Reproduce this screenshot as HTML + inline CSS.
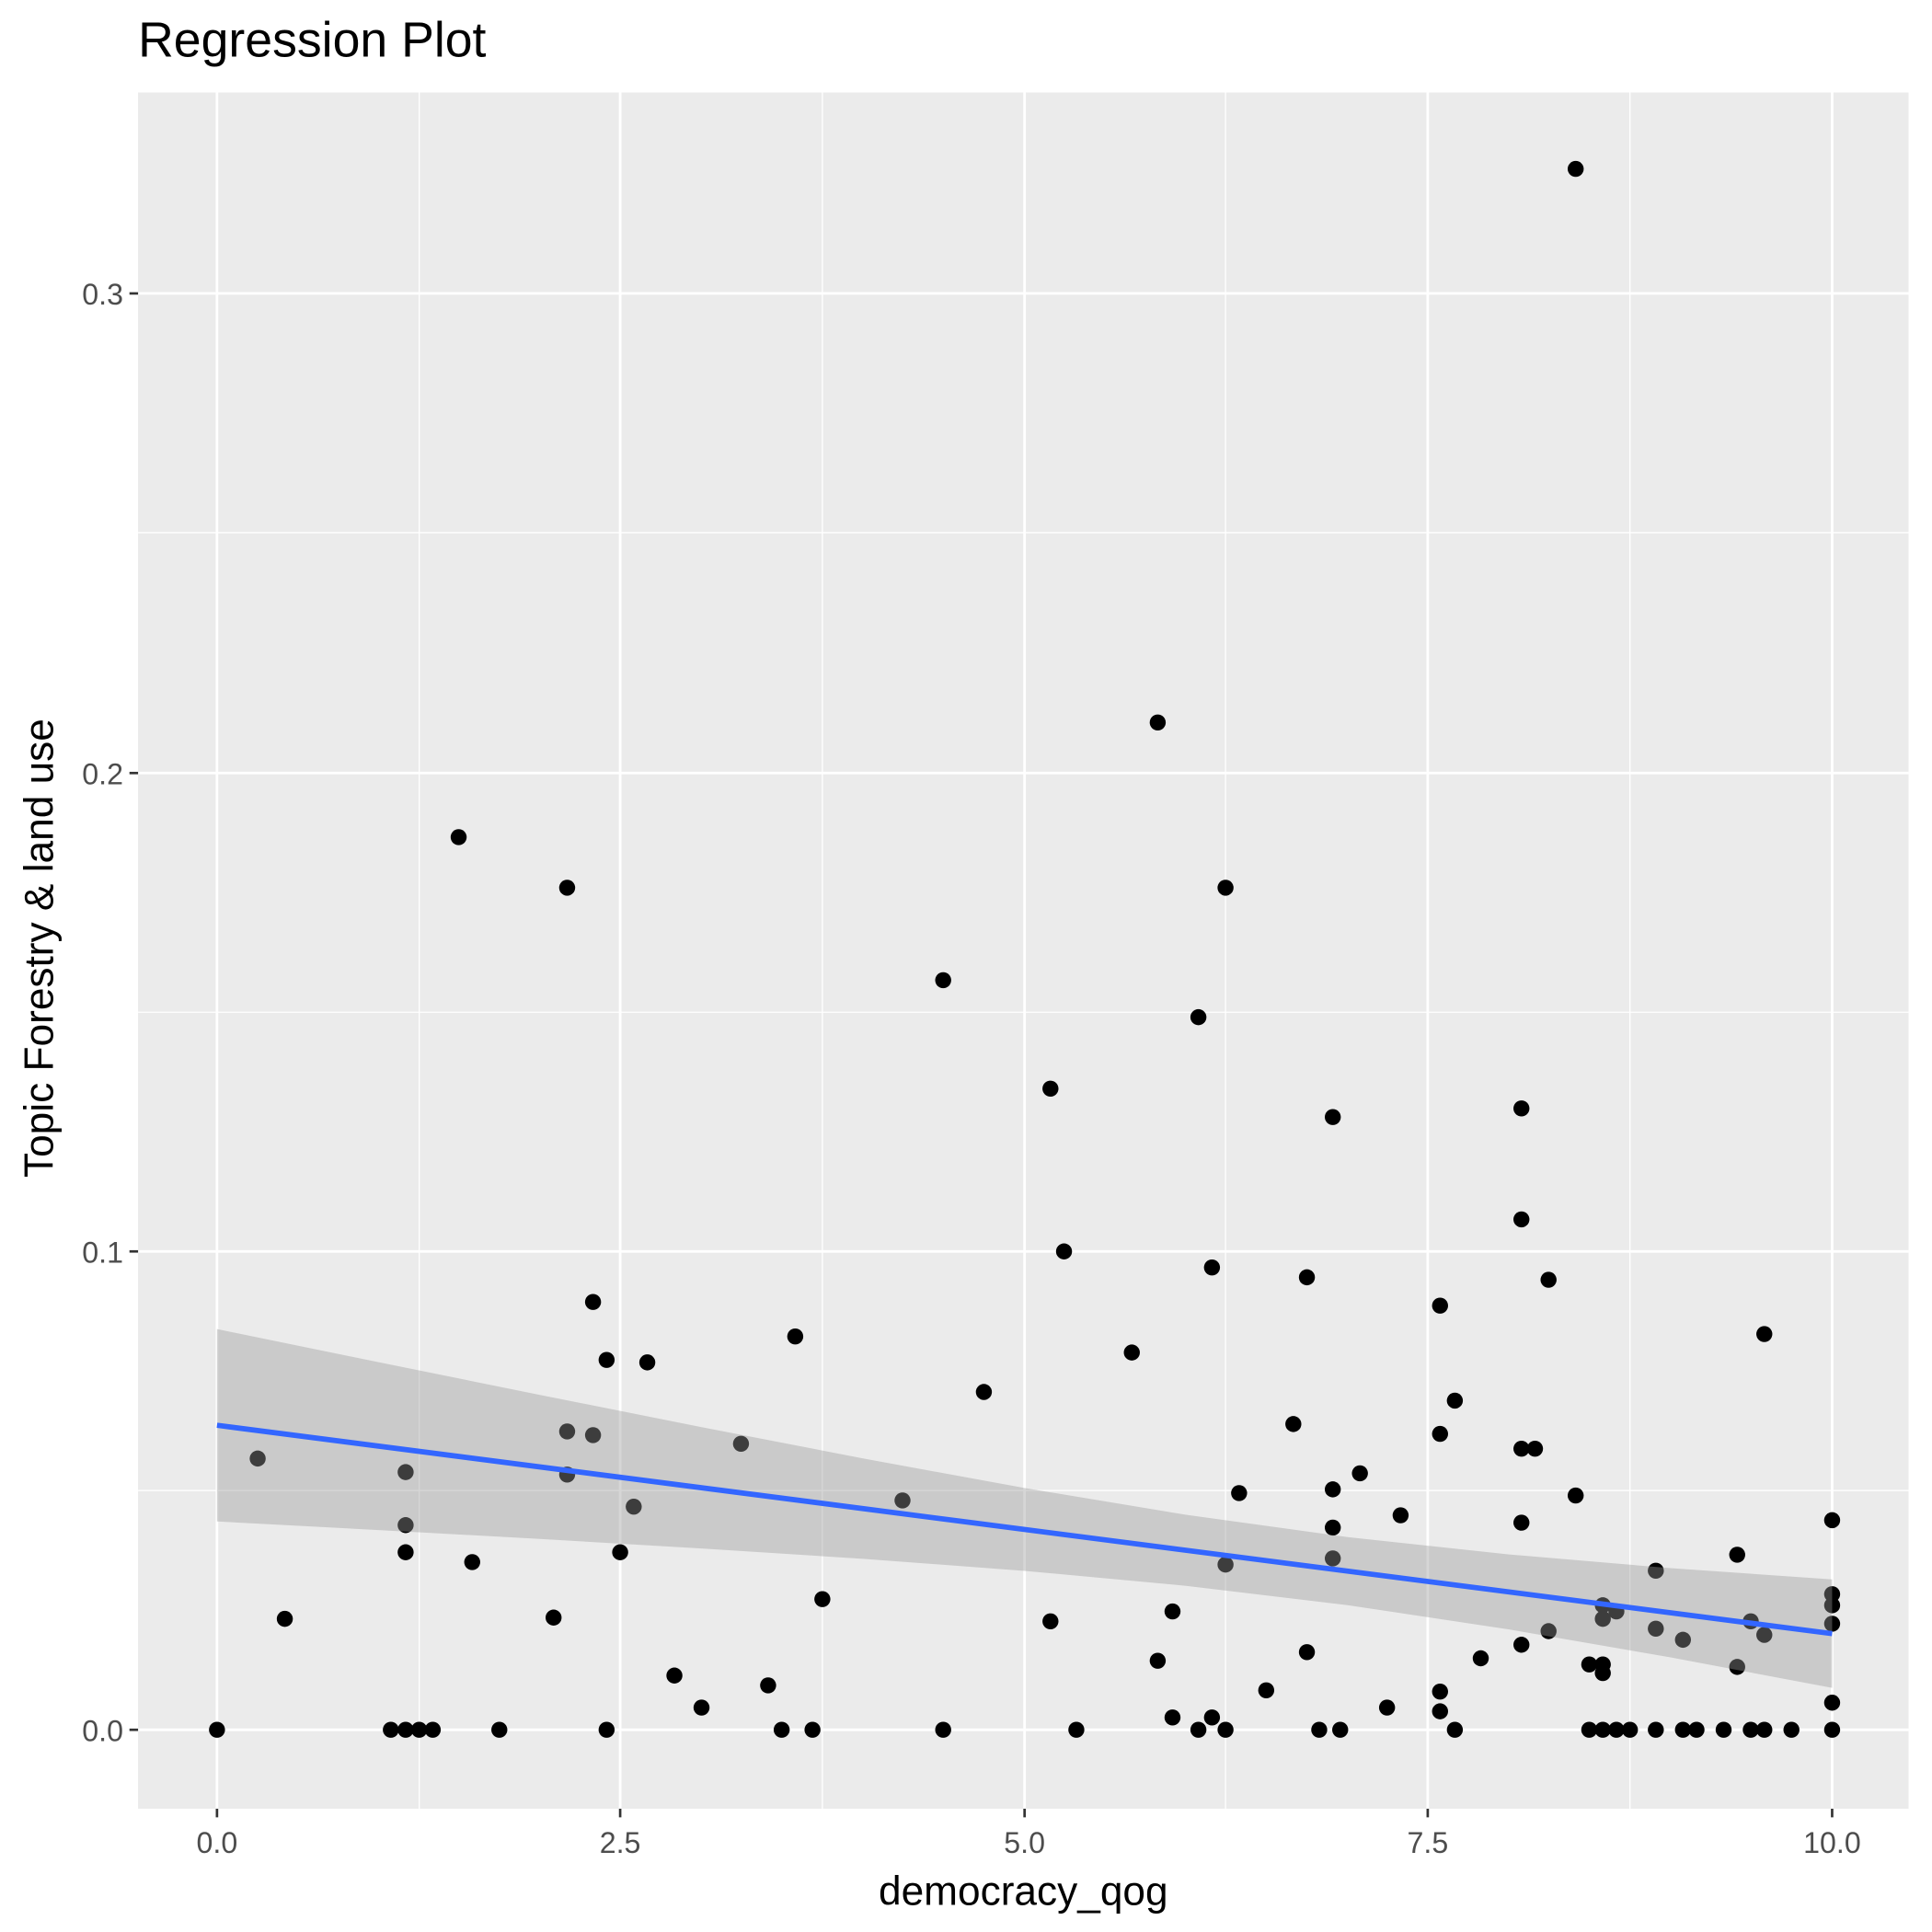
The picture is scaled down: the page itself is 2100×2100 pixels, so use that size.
<!DOCTYPE html>
<html><head><meta charset="utf-8"><style>html,body{margin:0;padding:0;background:#fff}svg{display:block}</style></head>
<body>
<svg width="2100" height="2100" viewBox="0 0 1567 1567" xmlns="http://www.w3.org/2000/svg" font-family="Liberation Sans, sans-serif">
<rect width="1567" height="1567" fill="#fff"/>
<rect x="112" y="75" width="1436" height="1392" fill="#EBEBEB"/>
<g stroke="#fff" stroke-width="1">
<line x1="112" x2="1548" y1="1209" y2="1209"/><line x1="112" x2="1548" y1="821" y2="821"/><line x1="112" x2="1548" y1="432" y2="432"/>
<line x1="340" x2="340" y1="75" y2="1467"/><line x1="667" x2="667" y1="75" y2="1467"/><line x1="994" x2="994" y1="75" y2="1467"/><line x1="1322" x2="1322" y1="75" y2="1467"/>
</g>
<g stroke="#fff" stroke-width="2.1">
<line x1="112" x2="1548" y1="1403" y2="1403"/><line x1="112" x2="1548" y1="1015" y2="1015"/><line x1="112" x2="1548" y1="627" y2="627"/><line x1="112" x2="1548" y1="238" y2="238"/>
<line x1="176" x2="176" y1="75" y2="1467"/><line x1="503" x2="503" y1="75" y2="1467"/><line x1="831" x2="831" y1="75" y2="1467"/><line x1="1158" x2="1158" y1="75" y2="1467"/><line x1="1486" x2="1486" y1="75" y2="1467"/>
</g>
<g fill="#000">
<circle cx="176" cy="1403" r="6.5"/><circle cx="209" cy="1183" r="6.5"/><circle cx="231" cy="1313" r="6.5"/><circle cx="317" cy="1403" r="6.5"/><circle cx="329" cy="1403" r="6.5"/><circle cx="340" cy="1403" r="6.5"/><circle cx="351" cy="1403" r="6.5"/><circle cx="329" cy="1194" r="6.5"/><circle cx="329" cy="1237" r="6.5"/><circle cx="329" cy="1259" r="6.5"/><circle cx="372" cy="679" r="6.5"/><circle cx="383" cy="1267" r="6.5"/><circle cx="405" cy="1403" r="6.5"/><circle cx="449" cy="1312" r="6.5"/><circle cx="460" cy="720" r="6.5"/><circle cx="460" cy="1161" r="6.5"/><circle cx="460" cy="1196" r="6.5"/><circle cx="481" cy="1056" r="6.5"/><circle cx="481" cy="1164" r="6.5"/><circle cx="492" cy="1103" r="6.5"/><circle cx="492" cy="1403" r="6.5"/><circle cx="503" cy="1259" r="6.5"/><circle cx="514" cy="1222" r="6.5"/><circle cx="525" cy="1105" r="6.5"/><circle cx="547" cy="1359" r="6.5"/><circle cx="569" cy="1385" r="6.5"/><circle cx="601" cy="1171" r="6.5"/><circle cx="623" cy="1367" r="6.5"/><circle cx="634" cy="1403" r="6.5"/><circle cx="645" cy="1084" r="6.5"/><circle cx="659" cy="1403" r="6.5"/><circle cx="667" cy="1297" r="6.5"/><circle cx="732" cy="1217" r="6.5"/><circle cx="765" cy="795" r="6.5"/><circle cx="765" cy="1403" r="6.5"/><circle cx="798" cy="1129" r="6.5"/><circle cx="852" cy="883" r="6.5"/><circle cx="852" cy="1315" r="6.5"/><circle cx="863" cy="1015" r="6.5"/><circle cx="873" cy="1403" r="6.5"/><circle cx="918" cy="1097" r="6.5"/><circle cx="939" cy="586" r="6.5"/><circle cx="939" cy="1347" r="6.5"/><circle cx="951" cy="1307" r="6.5"/><circle cx="951" cy="1393" r="6.5"/><circle cx="972" cy="825" r="6.5"/><circle cx="972" cy="1403" r="6.5"/><circle cx="983" cy="1028" r="6.5"/><circle cx="983" cy="1393" r="6.5"/><circle cx="994" cy="720" r="6.5"/><circle cx="994" cy="1269" r="6.5"/><circle cx="994" cy="1403" r="6.5"/><circle cx="1005" cy="1211" r="6.5"/><circle cx="1027" cy="1371" r="6.5"/><circle cx="1049" cy="1155" r="6.5"/><circle cx="1060" cy="1036" r="6.5"/><circle cx="1060" cy="1340" r="6.5"/><circle cx="1070" cy="1403" r="6.5"/><circle cx="1081" cy="906" r="6.5"/><circle cx="1081" cy="1208" r="6.5"/><circle cx="1081" cy="1239" r="6.5"/><circle cx="1081" cy="1264" r="6.5"/><circle cx="1087" cy="1403" r="6.5"/><circle cx="1103" cy="1195" r="6.5"/><circle cx="1125" cy="1385" r="6.5"/><circle cx="1136" cy="1229" r="6.5"/><circle cx="1168" cy="1059" r="6.5"/><circle cx="1168" cy="1163" r="6.5"/><circle cx="1168" cy="1372" r="6.5"/><circle cx="1168" cy="1388" r="6.5"/><circle cx="1180" cy="1136" r="6.5"/><circle cx="1180" cy="1403" r="6.5"/><circle cx="1201" cy="1345" r="6.5"/><circle cx="1234" cy="899" r="6.5"/><circle cx="1234" cy="989" r="6.5"/><circle cx="1234" cy="1175" r="6.5"/><circle cx="1245" cy="1175" r="6.5"/><circle cx="1234" cy="1235" r="6.5"/><circle cx="1234" cy="1334" r="6.5"/><circle cx="1256" cy="1038" r="6.5"/><circle cx="1256" cy="1323" r="6.5"/><circle cx="1278" cy="137" r="6.5"/><circle cx="1278" cy="1213" r="6.5"/><circle cx="1289" cy="1350" r="6.5"/><circle cx="1289" cy="1403" r="6.5"/><circle cx="1300" cy="1302" r="6.5"/><circle cx="1300" cy="1313" r="6.5"/><circle cx="1300" cy="1350" r="6.5"/><circle cx="1300" cy="1357" r="6.5"/><circle cx="1300" cy="1403" r="6.5"/><circle cx="1311" cy="1307" r="6.5"/><circle cx="1311" cy="1403" r="6.5"/><circle cx="1322" cy="1403" r="6.5"/><circle cx="1343" cy="1274" r="6.5"/><circle cx="1343" cy="1321" r="6.5"/><circle cx="1343" cy="1403" r="6.5"/><circle cx="1365" cy="1330" r="6.5"/><circle cx="1365" cy="1403" r="6.5"/><circle cx="1376" cy="1403" r="6.5"/><circle cx="1398" cy="1403" r="6.5"/><circle cx="1409" cy="1261" r="6.5"/><circle cx="1409" cy="1352" r="6.5"/><circle cx="1420" cy="1315" r="6.5"/><circle cx="1420" cy="1403" r="6.5"/><circle cx="1431" cy="1082" r="6.5"/><circle cx="1431" cy="1326" r="6.5"/><circle cx="1431" cy="1403" r="6.5"/><circle cx="1453" cy="1403" r="6.5"/><circle cx="1486" cy="1233" r="6.5"/><circle cx="1486" cy="1293" r="6.5"/><circle cx="1486" cy="1302" r="6.5"/><circle cx="1486" cy="1317" r="6.5"/><circle cx="1486" cy="1381" r="6.5"/><circle cx="1486" cy="1403" r="6.5"/>
</g>
<path d="M176,1078 L307,1104.8 L438,1131.4 L569,1157.5 L700,1182.9 L831,1206.9 L962,1228.6 L1093,1246.7 L1224,1260.8 L1355,1271.9 L1486,1281 L1486,1369 L1355,1344.3 L1224,1321.6 L1093,1301.9 L962,1286.2 L831,1274.1 L700,1264.3 L569,1255.9 L438,1248.2 L307,1241 L176,1234 Z" fill="#999999" fill-opacity="0.4"/>
<line x1="176" y1="1156" x2="1486" y2="1325" stroke="#3366FF" stroke-width="4.3"/>
<g stroke="#333" stroke-width="2">
<line x1="105" x2="112" y1="1403" y2="1403"/><line x1="105" x2="112" y1="1015" y2="1015"/><line x1="105" x2="112" y1="627" y2="627"/><line x1="105" x2="112" y1="238" y2="238"/>
<line x1="176" x2="176" y1="1467" y2="1474"/><line x1="503" x2="503" y1="1467" y2="1474"/><line x1="831" x2="831" y1="1467" y2="1474"/><line x1="1158" x2="1158" y1="1467" y2="1474"/><line x1="1486" x2="1486" y1="1467" y2="1474"/>
</g>
<g fill="#4D4D4D" font-size="24" text-anchor="end">
<text x="100" y="1412">0.0</text><text x="100" y="1024">0.1</text><text x="100" y="636">0.2</text><text x="100" y="247">0.3</text>
</g>
<g fill="#4D4D4D" font-size="24" text-anchor="middle">
<text x="176" y="1503">0.0</text><text x="503" y="1503">2.5</text><text x="831" y="1503">5.0</text><text x="1158" y="1503">7.5</text><text x="1486" y="1503">10.0</text>
</g>
<text x="830" y="1545" font-size="33" text-anchor="middle" fill="#000">democracy_qog</text>
<text transform="translate(43,769) rotate(-90)" font-size="33" text-anchor="middle" fill="#000">Topic Forestry &amp; land use</text>
<text x="112" y="46" font-size="40" fill="#000">Regression Plot</text>
</svg>
</body></html>
